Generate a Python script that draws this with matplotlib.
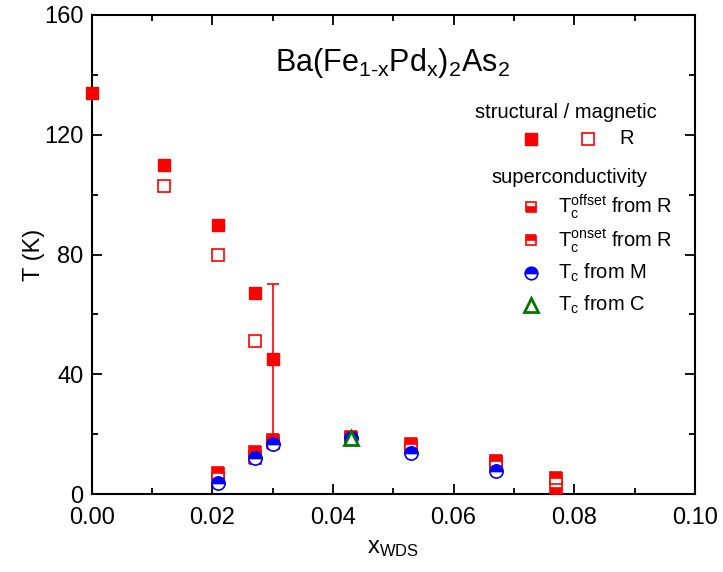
import matplotlib
matplotlib.use("Agg")
import matplotlib.pyplot as plt
from matplotlib.ticker import MultipleLocator

plt.rcParams['font.family'] = ['Liberation Sans', 'DejaVu Sans']
plt.rcParams['mathtext.fontset'] = 'custom'
plt.rcParams['mathtext.rm'] = 'Liberation Sans'
plt.rcParams['mathtext.it'] = 'Liberation Sans'

# structural / magnetic transitions
x_struct_filled = [0.0, 0.012, 0.021, 0.027, 0.030]
T_struct_filled = [134, 110, 90, 67, 45]
x_struct_open = [0.012, 0.021, 0.027]
T_struct_open = [103, 80, 51]
err_x = [0.030]
err_T = [45]
err_low = [27]
err_high = [25]

# superconductivity
x_offset = [0.021, 0.027, 0.030, 0.043, 0.053, 0.067, 0.077]
T_offset = [5, 12, 17, 18.5, 15, 10, 2]
x_onset = [0.021, 0.027, 0.030, 0.043, 0.053, 0.067, 0.077]
T_onset = [7, 14, 18, 19.2, 16.7, 11, 5.3]
x_M = [0.021, 0.027, 0.030, 0.043, 0.053, 0.067]
T_M = [3.8, 12.1, 16.7, 18.8, 13.7, 7.8]
x_C = [0.043]
T_C = [18.6]

fig = plt.figure(figsize=(7.23, 5.72), dpi=100)
ax = fig.add_axes([0.127, 0.136, 0.834, 0.838])

red = '#ff0000'
blue = '#0000ff'
green = '#007700'
ms_sq = 8.5
ms_c = 9.5

ax.errorbar(err_x, err_T, yerr=[err_low, err_high], fmt='none', ecolor=red,
            elinewidth=1.2, capsize=4, capthick=1.2, zorder=2)
ax.plot(x_struct_filled, T_struct_filled, 's', color=red, ms=ms_sq, mec=red, zorder=4, clip_on=False)
ax.plot(x_struct_open, T_struct_open, 's', mfc='white', mec=red, ms=ms_sq, mew=1.2, zorder=4)
ax.plot(x_offset, T_offset, 's', color=red, fillstyle='bottom', mfc=red, mfcalt='white',
        mec=red, ms=ms_sq, mew=1.2, zorder=4)
ax.plot(x_onset, T_onset, 's', color=red, fillstyle='top', mfc=red, mfcalt='white',
        mec=red, ms=ms_sq, mew=1.2, zorder=5)
ax.plot(x_M, T_M, 'o', fillstyle='top', mfc=blue, mfcalt='white', mec=blue,
        ms=ms_c, mew=1.2, zorder=6)
ax.plot(x_C, T_C, '^', mfc='white', mec=green, ms=9.5, mew=2, zorder=7)

ax.set_xlim(0.0, 0.10)
ax.set_ylim(0, 160)
ax.xaxis.set_major_locator(MultipleLocator(0.02))
ax.xaxis.set_minor_locator(MultipleLocator(0.01))
ax.yaxis.set_major_locator(MultipleLocator(40))
ax.yaxis.set_minor_locator(MultipleLocator(20))
ax.xaxis.set_major_formatter(matplotlib.ticker.FormatStrFormatter('%.2f'))
ax.tick_params(which='both', direction='in', top=True, right=True, width=1.3, labelsize=17)
ax.tick_params(which='major', length=7)
ax.tick_params(which='minor', length=4)
ax.tick_params(axis='x', pad=9)
ax.tick_params(axis='y', pad=6)
for s in ax.spines.values():
    s.set_linewidth(1.5)

ax.set_ylabel('T (K)', fontsize=17)
ax.yaxis.set_label_coords(-0.078, 0.5)
ax.set_xlabel(r'x$_{\mathrm{WDS}}$', fontsize=17, labelpad=6)

ax.text(0.303, 0.9, r'Ba(Fe$_{\mathrm{1\text{-}x}}$Pd$_{\mathrm{x}}$)$_{\mathrm{2}}$As$_{\mathrm{2}}$',
        transform=ax.transAxes, fontsize=22, ha='left', va='center')

# legend (manual)
fs = 14.5
tr = ax.transAxes
def fx(px):
    return (px - 92) / 603.0
def fy(py):
    return (494 - py) / 479.0

ax.text(fx(475), fy(113), 'structural / magnetic', transform=tr, fontsize=fs, va='center')
ax.plot([fx(531)], [fy(139)], 's', color=red, ms=ms_sq, transform=tr, clip_on=False)
ax.plot([fx(588)], [fy(139)], 's', mfc='white', mec=red, ms=ms_sq, mew=1.2, transform=tr, clip_on=False)
ax.text(fx(620), fy(139), 'R', transform=tr, fontsize=fs, va='center')
ax.text(fx(492), fy(178), 'superconductivity', transform=tr, fontsize=fs, va='center')

rows = [207, 240, 273, 305]
ax.plot([fx(531)], [fy(rows[0])], 's', fillstyle='bottom', mfc=red, mfcalt='white', mec=red,
        ms=ms_sq*0.9, mew=1.2, transform=tr, clip_on=False)
ax.plot([fx(531)], [fy(rows[1])], 's', fillstyle='top', mfc=red, mfcalt='white', mec=red,
        ms=ms_sq*0.9, mew=1.2, transform=tr, clip_on=False)
ax.plot([fx(531)], [fy(rows[2])], 'o', fillstyle='top', mfc=blue, mfcalt='white', mec=blue,
        ms=ms_c*0.95, mew=1.2, transform=tr, clip_on=False)
ax.plot([fx(531)], [fy(rows[3])], '^', mfc='white', mec=green, ms=9.5, mew=2, transform=tr, clip_on=False)

labels = [r'T$_{\mathrm{c}}^{\mathrm{offset}}$ from R', r'T$_{\mathrm{c}}^{\mathrm{onset}}$ from R',
          r'T$_{\mathrm{c}}$ from M', r'T$_{\mathrm{c}}$ from C']
for r, lab in zip(rows, labels):
    ax.text(fx(558), fy(r), lab, transform=tr, fontsize=fs, va='center')

fig.savefig('out.png', dpi=100)
